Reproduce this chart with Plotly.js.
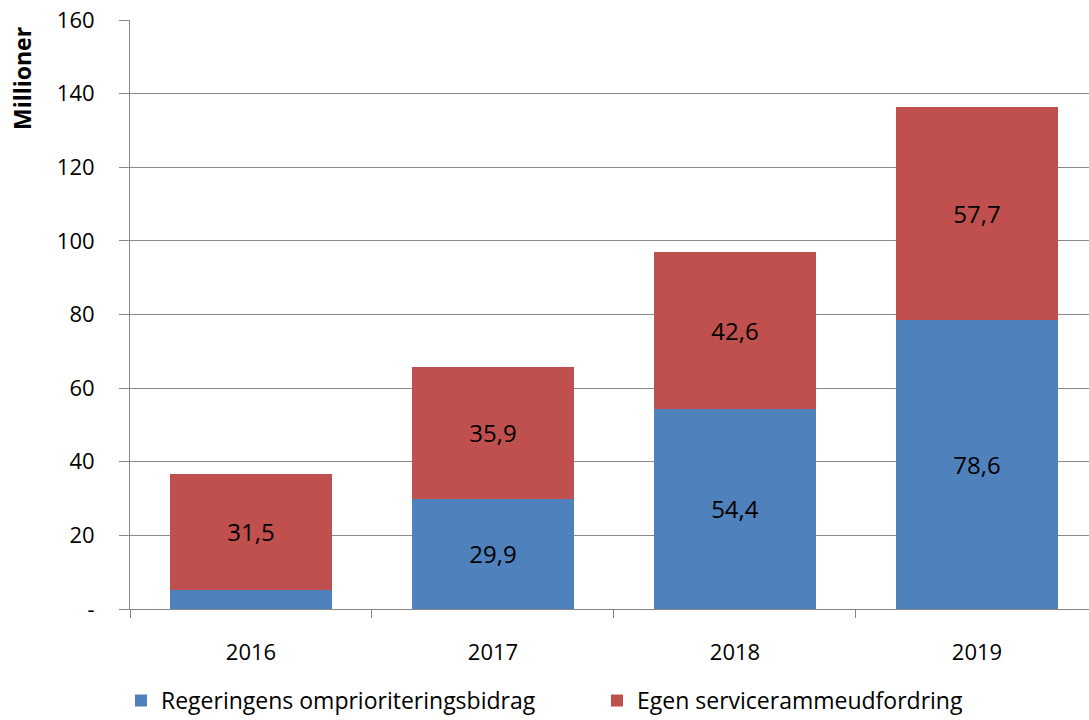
<!DOCTYPE html>
<html>
<head>
<meta charset="utf-8">
<script src="https://cdn.plot.ly/plotly-3.0.1.min.js"></script>
<style>html,body{margin:0;padding:0;background:#fff;}#chart{width:1089px;height:720px;}</style>
</head>
<body>
<div id="chart"></div>
<script>
const years = ['2016', '2017', '2018', '2019'];
const regeringens = [5.2, 29.9, 54.4, 78.6];
const egen = [31.5, 35.9, 42.6, 57.7];
const regeringensLabels = ['', '29,9', '54,4', '78,6'];
const egenLabels = ['31,5', '35,9', '42,6', '57,7'];
const seriesNames = ['Regeringens omprioriteringsbidrag', 'Egen servicerammeudfordring'];
const yTickVals = [0, 20, 40, 60, 80, 100, 120, 140, 160];
const yTickText = ['-', '20', '40', '60', '80', '100', '120', '140', '160'];
const yAxisTitle = 'Millioner';

const FONT = '"Open Sans", "Noto Sans", sans-serif';

const traces = [
  {
    type: 'bar', name: seriesNames[0], x: years, y: regeringens, legend: 'legend',
    text: regeringensLabels, textposition: 'inside', insidetextanchor: 'middle',
    textfont: {family: FONT, size: 24, color: '#000'},
    marker: {color: '#4F81BD'}, hoverinfo: 'none'
  },
  {
    type: 'bar', name: seriesNames[1], x: years, y: egen, legend: 'legend2',
    text: egenLabels, textposition: 'inside', insidetextanchor: 'middle',
    textfont: {family: FONT, size: 24, color: '#000'},
    marker: {color: '#C0504D'}, hoverinfo: 'none'
  }
];

const legendBase = {
  orientation: 'h', xanchor: 'left',
  yref: 'container', y: 0.027, yanchor: 'middle',
  font: {family: FONT, size: 23, color: '#000'},
  bgcolor: 'rgba(0,0,0,0)'
};

const layout = {
  width: 1089, height: 720,
  margin: {l: 130, r: 0, t: 20, b: 111},
  paper_bgcolor: '#fff', plot_bgcolor: '#fff',
  barmode: 'stack', bargap: 0.33,
  font: {family: FONT, size: 22, color: '#000'},
  xaxis: {
    type: 'category', range: [-0.5, 3.463], automargin: false,
    tickson: 'boundaries', ticks: 'outside', ticklen: 8, tickcolor: '#868686',
    showline: true, linecolor: '#868686', linewidth: 1,
    showgrid: false, ticklabelstandoff: 24,
    tickfont: {family: FONT, size: 22, color: '#000'}
  },
  yaxis: {
    range: [0, 160], tickvals: yTickVals, ticktext: yTickText, automargin: false,
    ticks: 'outside', ticklen: 10, tickcolor: '#868686',
    showline: true, linecolor: '#868686', linewidth: 1,
    showgrid: true, gridcolor: '#8a8a8a', gridwidth: 1,
    zeroline: false, ticklabelstandoff: 20,
    tickfont: {family: FONT, size: 22, color: '#000'}
  },
  annotations: [{
    text: '<b>' + yAxisTitle + '</b>', textangle: -90,
    xref: 'paper', yref: 'paper', x: (22 - 130) / 959, y: (609 - 79) / 589,
    xanchor: 'center', yanchor: 'middle', showarrow: false,
    font: {family: FONT, size: 23, color: '#000'}
  }],
  legend: Object.assign({}, legendBase, {x: -0.0094}),
  legend2: Object.assign({}, legendBase, {x: -0.0094 + (610 - 134) / 959}),
  showlegend: true
};

Plotly.newPlot('chart', traces, layout, {staticPlot: true, displayModeBar: false});
</script>
</body>
</html>
